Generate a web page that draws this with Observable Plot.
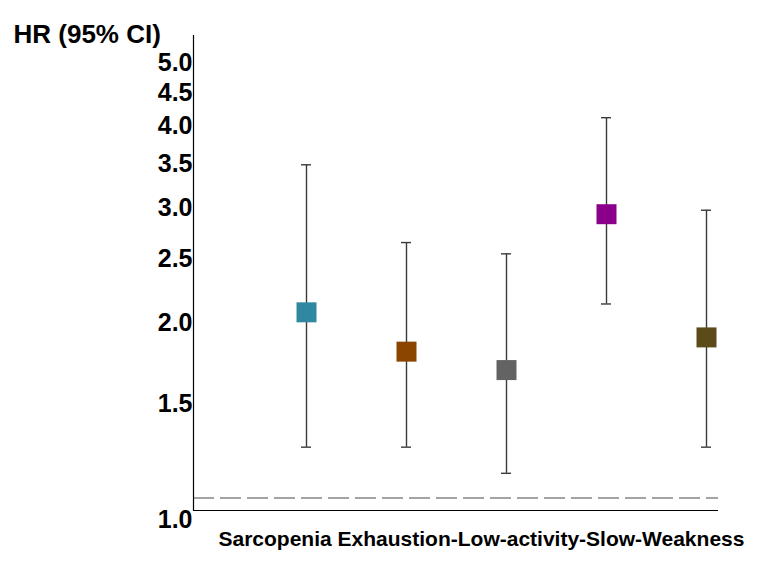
<!DOCTYPE html>
<html>
<head>
<meta charset="utf-8">
<script src="https://cdn.jsdelivr.net/npm/d3@7"></script>
<script src="https://cdn.jsdelivr.net/npm/@observablehq/plot@0.6"></script>
<style>
  body { margin: 0; background: #fff; }
</style>
</head>
<body>
<div id="chart"></div>
<script>
// Hazard ratios with 95% confidence intervals per frailty component
const groups = ["Sarcopenia", "Exhaustion-", "Low-activity-", "Slow-", "Weakness"];
const hr     = [2.01, 1.75, 1.64, 2.84, 1.84];
const lower  = [1.25, 1.25, 1.14, 2.07, 1.25];
const upper  = [3.38, 2.57, 2.47, 3.99, 2.88];
const colors = ["#2f87a0", "#8a4500", "#636363", "#8b008b", "#5c4a18"];

const yTicks = [1.0, 1.5, 2.0, 2.5, 3.0, 3.5, 4.0, 4.5, 5.0];
const referenceHR = 1.045;
const yTitle = "HR (95% CI)";
const xTitle = "Sarcopenia Exhaustion-Low-activity-Slow-Weakness";

const rows = groups.map((g, i) => ({group: g, hr: hr[i], lower: lower[i], upper: upper[i]}));

const chart = Plot.plot({
  width: 757,
  height: 563,
  marginTop: 35,
  marginRight: 39,
  marginBottom: 53,
  marginLeft: 193,
  style: {
    fontFamily: '"Liberation Sans", Arial, Helvetica, sans-serif',
    fontWeight: "bold",
    color: "#000",
    background: "#fff"
  },
  x: {type: "band", domain: groups, paddingInner: 0.9, paddingOuter: 0.5685, align: 0.94, axis: null},
  y: {type: "log", domain: [1, 5.33], axis: null},
  color: {domain: groups, range: colors},
  marks: [
    Plot.ruleY([referenceHR], {stroke: "#858585", strokeWidth: 1.5, strokeDasharray: "21,6"}),
    Plot.frame({anchor: "left", stroke: "#000", strokeWidth: 1.2}),
    Plot.ruleY([1], {stroke: "#000", strokeWidth: 1.2}),
    Plot.axisY(yTicks, {
      tickSize: 0,
      tickPadding: 1,
      tickFormat: d3.format(".1f"),
      fontSize: 25,
      fontWeight: "bold",
      dy: 9,
      label: null
    }),
    Plot.ruleX(rows, {x: "group", y1: "lower", y2: "upper", stroke: "#3a3a3a", strokeWidth: 1.4}),
    Plot.tickY(rows, {x: "group", y: "lower", stroke: "#3a3a3a", strokeWidth: 1.4}),
    Plot.tickY(rows, {x: "group", y: "upper", stroke: "#3a3a3a", strokeWidth: 1.4}),
    Plot.dot(rows, {x: "group", y: "hr", symbol: "square", r: 11.28, fill: "group", stroke: null}),
    Plot.text([yTitle], {
      text: d => d,
      frameAnchor: "top-left",
      textAnchor: "start",
      dx: -180,
      dy: -10.5,
      fontSize: 26,
      fontWeight: "bold"
    }),
    Plot.text([xTitle], {
      text: d => d,
      frameAnchor: "bottom-left",
      textAnchor: "start",
      dx: 25,
      dy: 35,
      fontSize: 21,
      fontWeight: "bold"
    })
  ]
});

document.getElementById("chart").appendChild(chart);
</script>
</body>
</html>
